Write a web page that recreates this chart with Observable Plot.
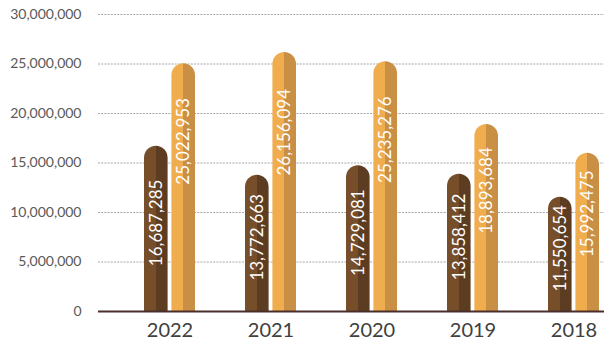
<!DOCTYPE html>
<html>
<head>
<meta charset="utf-8">
<script src="https://cdn.jsdelivr.net/npm/d3@7"></script>
<script src="https://cdn.jsdelivr.net/npm/@observablehq/plot@0.6"></script>
<style>
  html, body { margin: 0; padding: 0; background: #fff; }
  #chart svg { display: block; }
</style>
</head>
<body>
<div id="chart"></div>
<script>
// ---- data ----
const years = ["2022", "2021", "2020", "2019", "2018"];
const seriesDark = [16687285, 13772663, 14729081, 13858412, 11550654];
const seriesGold = [25022953, 26156094, 25235276, 18893684, 15992475];
const yTicks = [0, 5000000, 10000000, 15000000, 20000000, 25000000, 30000000];

const darkRows = years.map((y, i) => ({year: y, value: seriesDark[i]}));
const goldRows = years.map((y, i) => ({year: y, value: seriesGold[i]}));

// ---- layout ----
const W = 604, H = 342;
const xRange = [117.5, 624.5];
const band = (xRange[1] - xRange[0]) / years.length;
const barW = 24, gap = 3.4;
const outer = band / 2 - gap / 2 - barW; // inset on outer side
const inner = band / 2 + gap / 2;        // inset on inner side

function defs() {
  const ns = "http://www.w3.org/2000/svg";
  const d = document.createElementNS(ns, "defs");
  const mk = (id, c1, c2) => {
    const g = document.createElementNS(ns, "linearGradient");
    g.setAttribute("id", id);
    g.setAttribute("x1", "0"); g.setAttribute("x2", "1");
    g.setAttribute("y1", "0"); g.setAttribute("y2", "0");
    [["0", c1], ["0.5", c1], ["0.5", c2], ["1", c2]].forEach(([o, c]) => {
      const s = document.createElementNS(ns, "stop");
      s.setAttribute("offset", o);
      s.setAttribute("stop-color", c);
      g.appendChild(s);
    });
    d.appendChild(g);
  };
  mk("gDark", "#774e2a", "#5c3d22");
  mk("gGold", "#f0ad4e", "#c98f45");
  return d;
}

const fmt = d3.format(",");

const chart = Plot.plot({
  width: W,
  height: H,
  marginLeft: 98,
  marginRight: 0,
  marginTop: 14,
  marginBottom: 31,
  style: {fontFamily: "Lato, sans-serif", background: "#fff", overflow: "visible"},
  x: {type: "band", domain: years, range: xRange, padding: 0, label: null},
  y: {domain: [0, 30000000], label: null},
  marks: [
    defs,
    Plot.ruleY(yTicks.filter(t => t > 0), {stroke: "#a6a6a6", strokeWidth: 1, strokeDasharray: "2,1.2"}),
    Plot.barY(darkRows, {x: "year", y: "value", fill: "url(#gDark)", rx: barW / 2,
      insetLeft: outer, insetRight: inner, insetBottom: -20, clip: true}),
    Plot.barY(goldRows, {x: "year", y: "value", fill: "url(#gGold)", rx: barW / 2,
      insetLeft: inner, insetRight: outer, insetBottom: -20, clip: true}),
    Plot.ruleY([0], {stroke: "#4b2e2a", strokeWidth: 2}),
    Plot.text(darkRows, {x: "year", y: d => d.value / 2, text: d => fmt(d.value),
      rotate: -90, dx: -(gap / 2 + barW / 2), dy: -6, fill: "#ffffff", fontSize: 17, textAnchor: "middle"}),
    Plot.text(goldRows, {x: "year", y: d => d.value * 0.81 - 3080000, text: d => fmt(d.value),
      rotate: -90, dx: (gap / 2 + barW / 2), fill: "#ffffff", fontSize: 17, textAnchor: "middle"}),
    Plot.axisY(yTicks, {tickSize: 0, tickPadding: 17, tickFormat: fmt, fontSize: 14, fill: "#595959", label: null}),
    Plot.axisX({tickSize: 0, tickPadding: 11, fontSize: 20, fill: "#404040", label: null})
  ]
});
document.getElementById("chart").appendChild(chart);
</script>
</body>
</html>
